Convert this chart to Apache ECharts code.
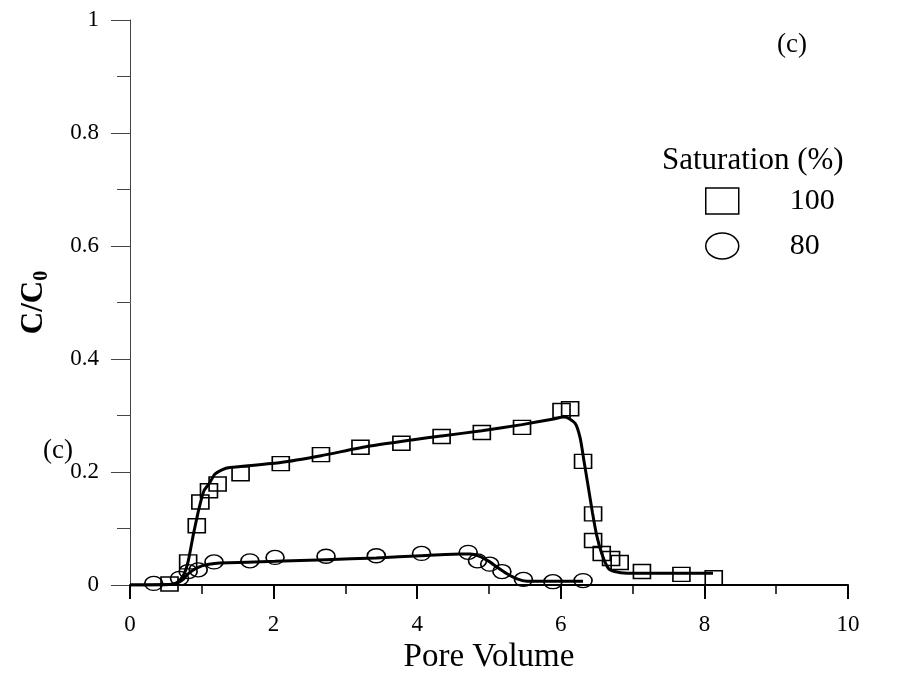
<!DOCTYPE html>
<html>
<head>
<meta charset="utf-8">
<script src="https://cdn.jsdelivr.net/npm/echarts@6/dist/echarts.min.js"></script>
<style>html,body{margin:0;padding:0;background:#fff;overflow:hidden;}#c{width:902px;height:679px;}</style>
</head>
<body>
<div id="c"></div>
<script>
// Measured data (Pore Volume vs C/C0)
var sat100X = [0.55, 0.81, 0.93, 0.98, 1.10, 1.22, 1.54, 2.10, 2.66, 3.21, 3.78, 4.34, 4.90, 5.46, 6.01, 6.13, 6.31, 6.45, 6.45, 6.57, 6.70, 6.82, 7.13, 7.68, 8.13];
var sat100Y = [0.002, 0.041, 0.105, 0.147, 0.167, 0.179, 0.197, 0.215, 0.231, 0.244, 0.251, 0.263, 0.270, 0.279, 0.309, 0.312, 0.219, 0.126, 0.079, 0.056, 0.047, 0.040, 0.024, 0.019, 0.013];
var sat80X = [0.33, 0.69, 0.81, 0.95, 1.17, 1.67, 2.02, 2.73, 3.43, 4.06, 4.71, 4.84, 5.01, 5.18, 5.48, 5.89, 6.31];
var sat80Y = [0.003, 0.012, 0.024, 0.027, 0.041, 0.043, 0.049, 0.051, 0.052, 0.056, 0.058, 0.043, 0.037, 0.024, 0.010, 0.006, 0.008];
// Model fit curves
var fit100X = [0, 0.55, 0.65, 0.74, 0.81, 0.88, 0.96, 1.03, 1.11, 1.18, 1.28, 1.39, 2.10, 2.66, 3.34, 4.34, 4.90, 5.46, 5.90, 6.05, 6.20, 6.27, 6.32, 6.38, 6.44, 6.50, 6.57, 6.66, 6.75, 6.92, 8.12];
var fit100Y = [0, 0.001, 0.004, 0.016, 0.042, 0.088, 0.135, 0.167, 0.181, 0.196, 0.204, 0.208, 0.217, 0.229, 0.246, 0.264, 0.273, 0.284, 0.294, 0.298, 0.286, 0.260, 0.222, 0.176, 0.129, 0.088, 0.056, 0.030, 0.024, 0.021, 0.021];
var fit80X = [0, 0.55, 0.65, 0.74, 0.81, 0.90, 1.00, 1.10, 1.25, 2.02, 2.73, 3.43, 4.06, 4.60, 4.74, 4.87, 5.00, 5.12, 5.25, 5.39, 5.53, 6.31];
var fit80Y = [0, 0.001, 0.003, 0.010, 0.020, 0.028, 0.034, 0.037, 0.039, 0.042, 0.045, 0.048, 0.052, 0.055, 0.055, 0.051, 0.042, 0.031, 0.020, 0.011, 0.007, 0.007];
var legendNames = ['100', '80'];
var legendTitle = 'Saturation (%)';
var xName = 'Pore Volume';

function zip(a, b) { return a.map(function (v, i) { return [v, b[i]]; }); }
var FONT = 'Liberation Serif';

var chart = echarts.init(document.getElementById('c'), null, {renderer: 'canvas'});
chart.setOption({
  animation: false,
  backgroundColor: '#fff',
  grid: {left: 130, right: 54, top: 20, bottom: 85, containLabel: false},
  xAxis: {
    type: 'value', min: 0, max: 10, interval: 2,
    axisLine: {show: true, onZero: false, lineStyle: {color: '#000', width: 2}},
    axisTick: {show: true, length: 14, lineStyle: {color: '#000', width: 2}},
    minorTick: {show: true, splitNumber: 2, length: 9, lineStyle: {color: '#000', width: 1.5}},
    splitLine: {show: false},
    axisLabel: {color: '#000', fontFamily: FONT, fontSize: 23, margin: 28},
    name: xName, nameLocation: 'middle', nameGap: 50,
    nameTextStyle: {color: '#000', fontFamily: FONT, fontSize: 33}
  },
  yAxis: {
    type: 'value', min: 0, max: 1, interval: 0.2,
    axisLine: {show: true, onZero: false, lineStyle: {color: '#444', width: 1}},
    axisTick: {show: true, length: 19, lineStyle: {color: '#444', width: 1}},
    minorTick: {show: true, splitNumber: 2, length: 13, lineStyle: {color: '#444', width: 1}},
    splitLine: {show: false},
    axisLabel: {color: '#000', fontFamily: FONT, fontSize: 23, margin: 31},
    name: 'C/C{s|0}', nameLocation: 'middle', nameGap: 78, nameRotate: 90,
    nameTextStyle: {color: '#000', fontFamily: FONT, fontSize: 31, fontWeight: 'bold',
      rich: {s: {fontFamily: FONT, fontSize: 20, fontWeight: 'bold', color: '#000', padding: [16, 0, 0, 0]}}}
  },
  legend: {
    data: [
      {name: legendNames[0], icon: 'rect'},
      {name: legendNames[1], icon: 'path://M0,13A16.5,13,0,1,1,33,13A16.5,13,0,1,1,0,13Z'}
    ],
    orient: 'vertical', left: 700, top: 181, padding: 5,
    itemWidth: 33, itemHeight: 26, itemGap: 15, symbolKeepAspect: false,
    itemStyle: {color: 'transparent', borderColor: '#000', borderWidth: 1.5},
    textStyle: {color: '#000', fontFamily: FONT, fontSize: 30, padding: [0, 0, 0, 46]}
  },
  graphic: [
    {type: 'text', left: 662, top: 145, style: {text: legendTitle, fill: '#000', font: '31px "Liberation Serif"'}},
    {type: 'text', left: 777, top: 31, style: {text: '(c)', fill: '#000', font: '27px "Liberation Serif"'}},
    {type: 'text', left: 43, top: 437, style: {text: '(c)', fill: '#000', font: '27px "Liberation Serif"'}}
  ],
  series: [
    {name: 'fit100', type: 'line', data: zip(fit100X, fit100Y), showSymbol: false, smooth: 0.2,
      lineStyle: {color: '#000', width: 3}, itemStyle: {color: '#000'}, z: 3},
    {name: 'fit80', type: 'line', data: zip(fit80X, fit80Y), showSymbol: false, smooth: 0.2,
      lineStyle: {color: '#000', width: 3}, itemStyle: {color: '#000'}, z: 3},
    {name: '100', type: 'scatter', data: zip(sat100X, sat100Y), symbol: 'rect', symbolSize: [17, 14], clip: false,
      itemStyle: {color: 'transparent', borderColor: '#000', borderWidth: 1.5, opacity: 1}, z: 4},
    {name: '80', type: 'scatter', data: zip(sat80X, sat80Y), symbol: 'circle', symbolSize: [18, 14], clip: false,
      itemStyle: {color: 'transparent', borderColor: '#000', borderWidth: 1.5, opacity: 1}, z: 4}
  ]
});
</script>
</body>
</html>
